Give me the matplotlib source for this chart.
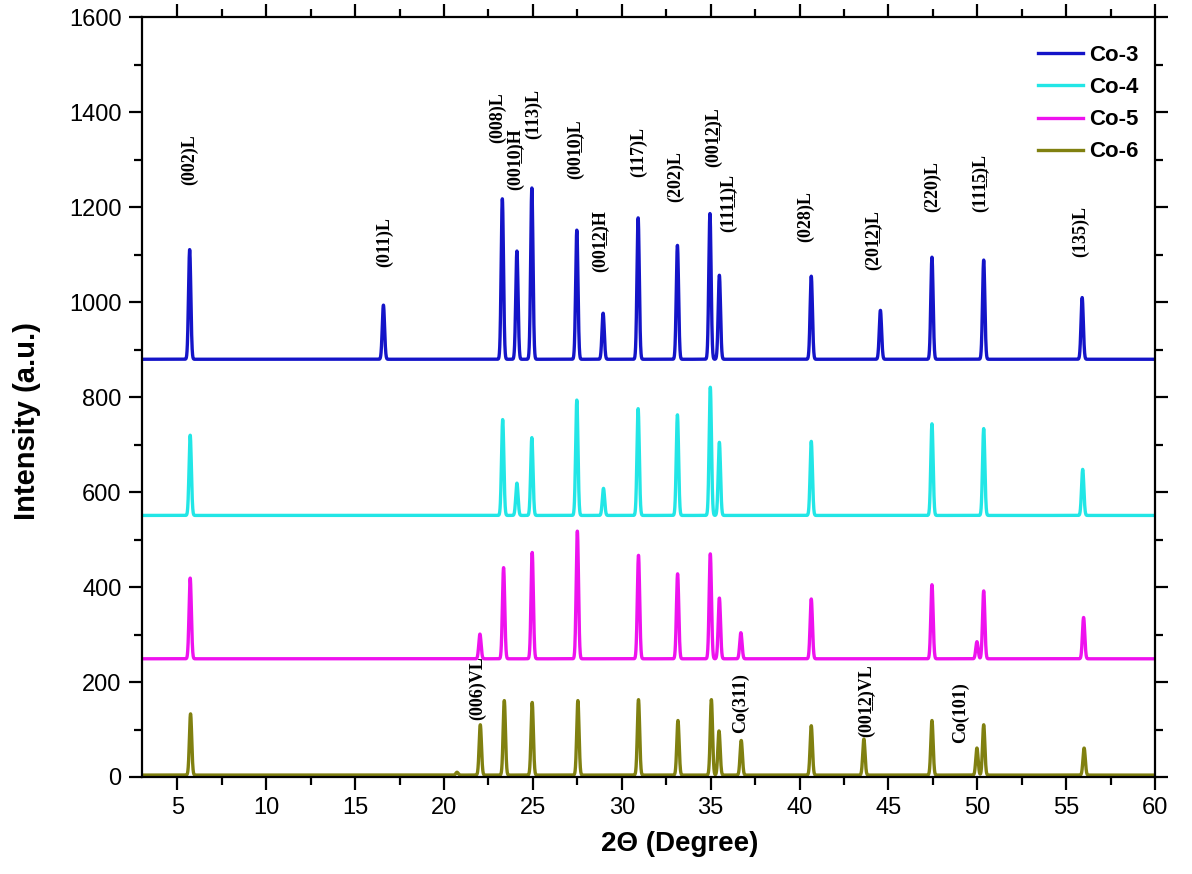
import numpy as np
import matplotlib.pyplot as plt
from matplotlib.ticker import MultipleLocator

# peak positions (2theta) and peak tops (absolute intensity)
co3_base = 880
co3_pos = [5.69, 16.59, 23.28, 24.10, 24.94, 27.47, 28.95, 30.92, 33.13, 34.96, 35.49, 40.66, 44.55, 47.45, 50.36, 55.90]
co3_top = [1111, 994, 1218, 1108, 1241, 1152, 977, 1178, 1120, 1187, 1057, 1055, 983, 1095, 1089, 1010]

co4_base = 551
co4_pos = [5.72, 23.30, 24.10, 24.94, 27.47, 28.97, 30.92, 33.13, 34.98, 35.49, 40.66, 47.45, 50.36, 55.93]
co4_top = [720, 753, 619, 715, 794, 608, 776, 763, 821, 705, 707, 744, 734, 648]

co5_base = 249
co5_pos = [5.72, 22.02, 23.35, 24.96, 27.50, 30.94, 33.14, 34.98, 35.49, 36.70, 40.66, 47.45, 49.98, 50.36, 55.98]
co5_top = [419, 301, 441, 473, 518, 467, 428, 470, 377, 304, 375, 405, 285, 392, 336]

co6_base = 4
co6_pos = [5.74, 20.73, 22.04, 23.39, 24.96, 27.53, 30.94, 33.16, 35.04, 35.47, 36.72, 40.66, 43.62, 47.45, 49.98, 50.36, 56.01]
co6_top = [133, 10, 110, 161, 157, 161, 163, 119, 163, 97, 77, 108, 80, 119, 61, 110, 61]

labels = ['Co-3', 'Co-4', 'Co-5', 'Co-6']
colors = ['#1414c8', '#22e6e6', '#ee12ee', '#808010']

UL = '\u0332'
def ul(s):
    return ''.join(c + UL for c in s)

# hkl annotations: text, x, bottom y
ann_text = ['(002)L', '(011)L', '(008)L', '(00' + ul('10') + ')H', '(113)L', '(00' + ul('10') + ')L',
            '(00' + ul('12') + ')H', '(117)L', '(202)L', '(00' + ul('12') + ')L', '(11' + ul('11') + ')L',
            '(028)L', '(20' + ul('12') + ')L', '(220)L', '(11' + ul('15') + ')L', '(135)L',
            '(006)VL', 'Co(311)', '(00' + ul('12') + ')VL', 'Co(101)']
ann_x = [5.67, 16.63, 23.03, 24.04, 25.06, 27.40, 28.80, 30.96, 33.03, 35.17, 36.00,
         40.34, 44.16, 47.47, 50.17, 55.80, 21.90, 36.69, 43.80, 49.04]
ann_y = [1248, 1074, 1335, 1237, 1345, 1260, 1063, 1264, 1212, 1286, 1148,
         1127, 1068, 1190, 1190, 1095, 121, 93, 85, 72]

x = np.linspace(3, 60, 12000)
sig = 0.065

def pattern(base, pos, top):
    y = np.full_like(x, float(base))
    for p, t in zip(pos, top):
        y += (t - base) * np.exp(-0.5 * ((x - p) / sig) ** 2)
    return y

series = [(co3_base, co3_pos, co3_top), (co4_base, co4_pos, co4_top),
          (co5_base, co5_pos, co5_top), (co6_base, co6_pos, co6_top)]

plt.rcParams['font.family'] = ['Liberation Sans', 'DejaVu Sans']
fig = plt.figure(figsize=(11.92, 8.74), dpi=100)
ax = fig.add_axes([0.119, 0.111, 0.85, 0.869])

for (b, p, t), lab, c in zip(series, labels, colors):
    ax.plot(x, pattern(b, p, t), color=c, lw=2.4, label=lab)

for s, xx, yy in zip(ann_text, ann_x, ann_y):
    ax.text(xx, yy, s, rotation=90, ha='center', va='bottom', fontsize=13,
            fontweight='bold', family=['Liberation Serif', 'DejaVu Serif'])

ax.set_xlim(3, 60)
ax.set_ylim(0, 1600)
ax.xaxis.set_major_locator(MultipleLocator(5))
ax.xaxis.set_minor_locator(MultipleLocator(2.5))
ax.yaxis.set_major_locator(MultipleLocator(200))
ax.yaxis.set_minor_locator(MultipleLocator(100))
ax.tick_params(which='both', direction='out', top=True, right=True, width=1.6, labelsize=17)
ax.tick_params(which='major', length=9.5, pad=5)
ax.tick_params(which='minor', length=5.5)
for sp in ax.spines.values():
    sp.set_linewidth(1.6)

ax.set_xlabel('2\u0398 (Degree)', fontsize=20, fontweight='bold')
ax.set_ylabel('Intensity (a.u.)', fontsize=21, fontweight='bold')
ax.xaxis.set_label_coords(0.531, -0.071)
ax.yaxis.set_label_coords(-0.0997, 0.469)

ax.legend(loc='upper right', bbox_to_anchor=(1.003, 0.99), frameon=False, handlelength=2.05,
          labelspacing=0.5, handletextpad=0.25, prop={'size': 16, 'weight': 'bold'})

fig.savefig('out.png', dpi=100)
